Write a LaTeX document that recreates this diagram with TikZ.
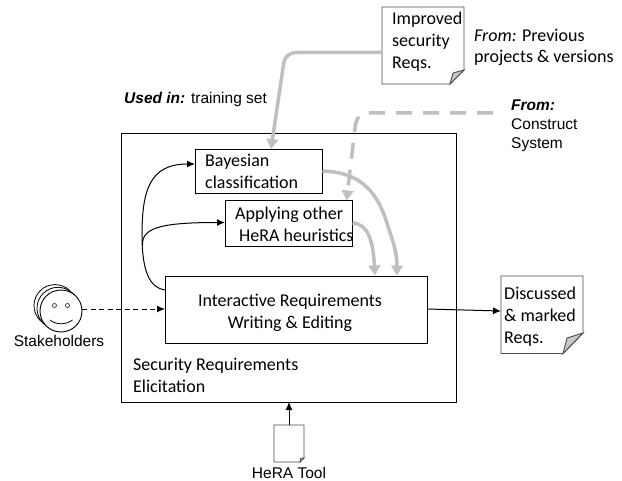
\documentclass[tikz,border=0pt]{standalone}
\usepackage{fontspec}
\setmainfont{Carlito}
\newfontfamily\arialf{Liberation Sans}
\usetikzlibrary{arrows.meta}
\definecolor{gr}{RGB}{191,191,191}
\definecolor{foldc}{RGB}{200,200,200}
\newcommand\fs{\rule{0pt}{13bp}}
\newcommand\fa{\rule{0pt}{12bp}}
\tikzset{
  x=1bp,y=-1bp,
  boxs/.style={draw=black,line width=0.9bp,fill=white},
  lab/.style={inner sep=0pt,align=left,anchor=north west,font=\fontsize{18bp}{22bp}\selectfont},
  arl/.style={inner sep=0pt,align=left,anchor=north west,font=\arialf\fontsize{15.5bp}{19bp}\selectfont},
  grarrow/.style={draw=gr,line width=3.5bp,-{Triangle[length=10bp,width=11.5bp]}},
  blarrow/.style={draw=black,line width=1bp,-{Latex[length=8bp,width=7bp]}},
  docline/.style={draw=black!70,line width=0.9bp,fill=white}
}
\begin{document}
\begin{tikzpicture}
\useasboundingbox (0,0) rectangle (622,481);
\fill[white] (0,0) rectangle (622,481);
% main box
\node[boxs,minimum width=335.5bp,minimum height=268.5bp,anchor=north west,inner sep=0pt] (main) at (120.5,133.5) {};
\node[lab] (secreq) at (133,357) {\fs Security Requirements\\Elicitation};
% inner boxes
\node[boxs,minimum width=127bp,minimum height=44.5bp,anchor=north west,inner sep=0pt] (bayes) at (195,149) {};
\node[lab] (bayest) at (205,153.5) {\fs Bayesian\\classification};
\node[boxs,minimum width=127bp,minimum height=45bp,anchor=north west,inner sep=0pt] (apply) at (225,200.5) {};
\node[boxs,minimum width=262bp,minimum height=67.5bp,anchor=north west,inner sep=0pt] (inter) at (165,275.5) {};
\node[lab,align=center,anchor=north] (intert) at (290,293.7) {\fs Interactive Requirements\\Writing \& Editing};
% improved doc
\path[docline] (382,7) -- (464,7) -- (464,70) -- (450,84) -- (382,84) -- cycle;
\path[draw=black!70,line width=0.9bp,fill=foldc] (464,70) -- (450,84) -- (453,73) -- cycle;
\coordinate (impl) at (382,52.5);
\node[lab] (impt) at (392,11) {\fs Improved\\security\\Reqs.};
% discussed doc
\path[docline] (501,276) -- (583,276) -- (583,333) -- (563,353.5) -- (501,353.5) -- cycle;
\path[draw=black!70,line width=0.9bp,fill=foldc] (583,333) -- (563,353.5) -- (567,338) -- cycle;
\coordinate (disl) at (501,311);
\node[lab] (dist) at (504,286.7) {\fs Discussed\\\&~marked\\Reqs.};
% hera doc
\path[docline] (274,425) -- (304,425) -- (304,458) -- (300,462) -- (274,462) -- cycle;
\path[draw=black!70,line width=0.8bp,fill=white] (304,458) -- (300,462) -- (300.5,458.5) -- cycle;
\coordinate (herat) at (289,425);
\node[arl,anchor=north] (herat2) at (289,466) {\fa HeRA Tool};
% smiley
\foreach \d in {6,3}{\draw[black,line width=0.8bp,fill=white] (61-\d,311-\d*0.9) circle (21bp);}
\draw[black,line width=0.9bp,fill=white] (61,311) circle (21bp);
\draw[black!80,line width=0.7bp] (54.5,305.5) circle (2bp) (67.5,305.5) circle (2bp);
\draw[black,line width=0.8bp] (50,320) .. controls (56,325) and (66,325) .. (72.5,320);
\coordinate (smile) at (82,309);
\node[arl,anchor=north] (stk) at (59,334.7) {\fa Stakeholders};
% gray arrows
\draw[grarrow] (impl) -- (298,52.5) .. controls (287,52.5) and (284,58) .. (283,68) -- (271,149);
\draw[grarrow,dash pattern=on 16bp off 11bp] (493,113) -- (369,113) .. controls (360,113) and (356,118) .. (355,128) -- (346.5,200.5);
\draw[grarrow] (322.5,171) .. controls (363,172) and (378,195) .. (387,223) .. controls (392,240) and (397,250) .. (397,275.5);
\draw[grarrow] (352.5,223) .. controls (368,224) and (373,240) .. (375,275.5);
% apply label above arrows
\node[lab] (applyt) at (235,206) {\fs Applying other\\\rule{4bp}{0pt}HeRA heuristics};
% black arrows
\draw[blarrow] (165,290) .. controls (150,288) and (142,272) .. (142,235) .. controls (142,190) and (150,164) .. (195,164);
\draw[blarrow] (142.5,245) .. controls (142,228) and (160,222.5) .. (225,222.5);
\draw[blarrow,dash pattern=on 5bp off 3.5bp] (smile) -- (165,309);
\draw[blarrow] (427,309) -- (501,311);
\draw[blarrow] (herat) -- (289,402);
% labels
\node[arl] (usedin) at (124,91) {\fa\textbf{\textit{Used in:}} training set};
\node[lab,font=\fontsize{18bp}{21bp}\selectfont] (fromprev) at (474,28) {\fs\textit{From:} Previous\\projects \& versions};
\node[arl] (fromcon) at (511,98.5) {\fa\textbf{\textit{From:}}\\Construct\\System};
\end{tikzpicture}
\end{document}
